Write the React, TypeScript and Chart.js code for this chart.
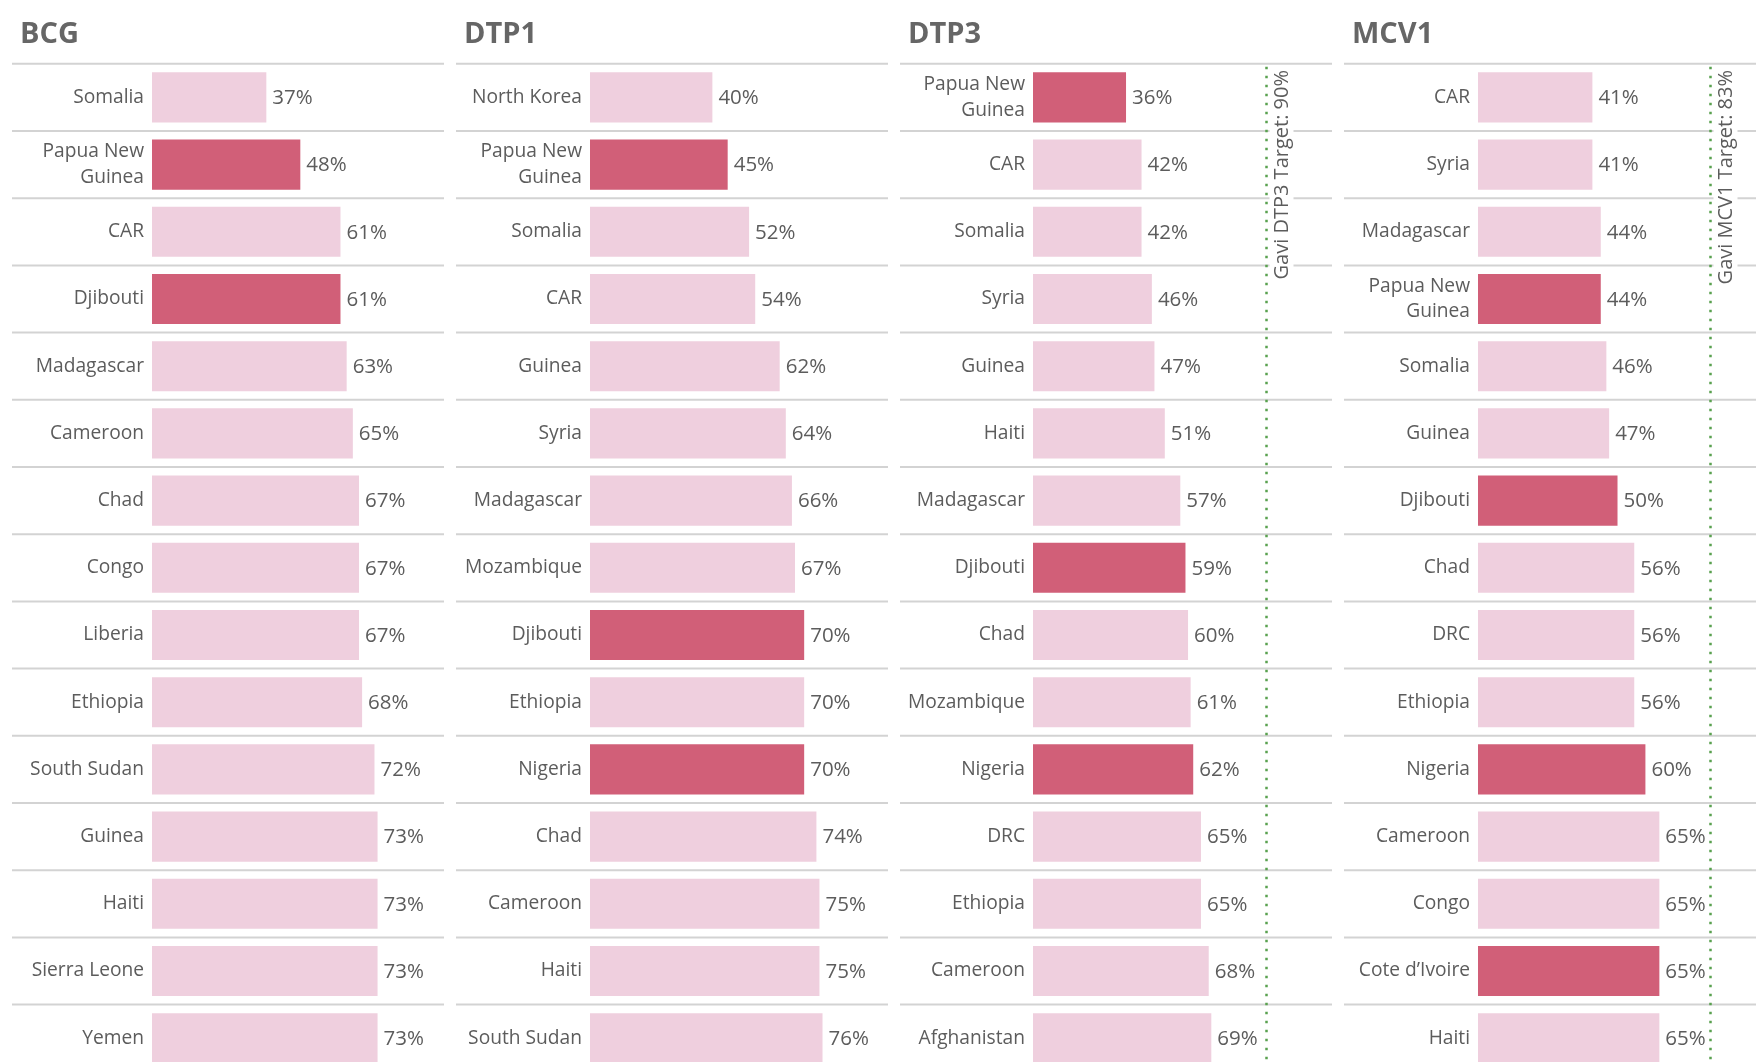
import React, { useEffect, useRef } from "react";
import { Chart, registerables } from "chart.js";

Chart.register(...registerables);

// ---------------- DATA ----------------
const bcgCountries = ["Somalia", "Papua New Guinea", "CAR", "Djibouti", "Madagascar", "Cameroon", "Chad", "Congo", "Liberia", "Ethiopia", "South Sudan", "Guinea", "Haiti", "Sierra Leone", "Yemen"];
const bcgValues = [37, 48, 61, 61, 63, 65, 67, 67, 67, 68, 72, 73, 73, 73, 73];

const dtp1Countries = ["North Korea", "Papua New Guinea", "Somalia", "CAR", "Guinea", "Syria", "Madagascar", "Mozambique", "Djibouti", "Ethiopia", "Nigeria", "Chad", "Cameroon", "Haiti", "South Sudan"];
const dtp1Values = [40, 45, 52, 54, 62, 64, 66, 67, 70, 70, 70, 74, 75, 75, 76];

const dtp3Countries = ["Papua New Guinea", "CAR", "Somalia", "Syria", "Guinea", "Haiti", "Madagascar", "Djibouti", "Chad", "Mozambique", "Nigeria", "DRC", "Ethiopia", "Cameroon", "Afghanistan"];
const dtp3Values = [36, 42, 42, 46, 47, 51, 57, 59, 60, 61, 62, 65, 65, 68, 69];

const mcv1Countries = ["CAR", "Syria", "Madagascar", "Papua New Guinea", "Somalia", "Guinea", "Djibouti", "Chad", "DRC", "Ethiopia", "Nigeria", "Cameroon", "Congo", "Cote d\u2019Ivoire", "Haiti"];
const mcv1Values = [41, 41, 44, 44, 46, 47, 50, 56, 56, 56, 60, 65, 65, 65, 65];

const highlightedCountries = ["Papua New Guinea", "Djibouti", "Nigeria", "Cote d\u2019Ivoire"];

const dtp3Target = 90;
const mcv1Target = 83;

// ---------------- STYLE / LAYOUT ----------------
const FONT = "'Open Sans', 'Noto Sans', sans-serif";
const TEXT = "#5c5c5c";
const TITLE = "#666666";
const LIGHT = "#efcfde";
const DARK = "#d15f78";
const GRID = "#d3d3d3";
const GREEN = "#59a14f";

const CANVAS_W = 432;
const CANVAS_H = 1080;
const TOP = 63.8;
const ROW_H = 67.2;

type Panel = {
  title: string;
  countries: string[];
  values: number[];
  left: number;
  labelWidth: number;
  xMax: number;
  target: number | null;
};

const panels: Panel[] = [
  { title: "BCG", countries: bcgCountries, values: bcgValues, left: 12, labelWidth: 140, xMax: 94.5, target: null },
  { title: "DTP1", countries: dtp1Countries, values: dtp1Values, left: 456, labelWidth: 134, xMax: 97.4, target: null },
  { title: "DTP3", countries: dtp3Countries, values: dtp3Values, left: 900, labelWidth: 133, xMax: 115.7, target: dtp3Target },
  { title: "MCV1", countries: mcv1Countries, values: mcv1Values, left: 1344, labelWidth: 134, xMax: 106.8, target: mcv1Target },
];

function wrapLabel(label: string): string | string[] {
  if (label.length <= 14) return label;
  const idx = label.lastIndexOf(" ", 12);
  if (idx <= 0) return label;
  return [label.slice(0, idx), label.slice(idx + 1)];
}

function PanelChart({ panel }: { panel: Panel }) {
  const ref = useRef<HTMLCanvasElement | null>(null);

  useEffect(() => {
    if (!ref.current) return;
    const n = panel.countries.length;

    const rowLines = {
      id: "rowLines",
      beforeDatasetsDraw(chart: any) {
        const y = chart.scales.y;
        const ctx = chart.ctx;
        ctx.save();
        ctx.strokeStyle = GRID;
        ctx.lineWidth = 2;
        for (let i = 0; i <= n; i++) {
          const py = y.getPixelForValue(i - 0.5);
          ctx.beginPath();
          ctx.moveTo(0, py);
          ctx.lineTo(chart.width, py);
          ctx.stroke();
        }
        ctx.restore();
      },
    };

    const titlePlugin = {
      id: "panelTitle",
      afterDraw(chart: any) {
        const ctx = chart.ctx;
        ctx.save();
        ctx.font = `bold 29px ${FONT}`;
        ctx.fillStyle = TITLE;
        ctx.textAlign = "left";
        ctx.textBaseline = "alphabetic";
        ctx.fillText(panel.title, 8, 43);
        ctx.restore();
      },
    };

    const valueLabels = {
      id: "valueLabels",
      afterDatasetsDraw(chart: any) {
        const ctx = chart.ctx;
        const meta = chart.getDatasetMeta(0);
        ctx.save();
        ctx.font = `20.5px ${FONT}`;
        ctx.fillStyle = TEXT;
        ctx.textAlign = "left";
        ctx.textBaseline = "middle";
        meta.data.forEach((bar: any, i: number) => {
          ctx.fillText(`${panel.values[i]}%`, bar.x + 6, bar.y + 1);
        });
        ctx.restore();
      },
    };

    const targetLine = {
      id: "targetLine",
      afterDatasetsDraw(chart: any) {
        if (panel.target === null) return;
        const ctx = chart.ctx;
        const x = Math.round(chart.scales.x.getPixelForValue(panel.target)) + 0.5;
        const { top, bottom } = chart.chartArea;
        ctx.save();
        ctx.strokeStyle = GREEN;
        ctx.lineWidth = 2.5;
        ctx.setLineDash([2.5, 6.5]);
        ctx.beginPath();
        ctx.moveTo(x, top + 3);
        ctx.lineTo(x, bottom);
        ctx.stroke();
        ctx.setLineDash([]);
        const text = `Gavi ${panel.title} Target: ${panel.target}%`;
        ctx.font = `20px ${FONT}`;
        const w = ctx.measureText(text).width;
        const cx = x + 15;
        const endY = 70;
        ctx.fillStyle = "#ffffff";
        ctx.fillRect(cx - 12, endY - 3, 24, w + 6);
        ctx.translate(cx, endY);
        ctx.rotate(-Math.PI / 2);
        ctx.fillStyle = TEXT;
        ctx.textAlign = "right";
        ctx.textBaseline = "middle";
        ctx.fillText(text, 0, 1);
        ctx.restore();
      },
    };

    const chart = new Chart(ref.current, {
      type: "bar",
      data: {
        labels: panel.countries,
        datasets: [
          {
            data: panel.values,
            backgroundColor: panel.countries.map((c) => (highlightedCountries.includes(c) ? DARK : LIGHT)),
            borderWidth: 0,
            categoryPercentage: 1,
            barPercentage: 0.745,
          },
        ],
      },
      options: {
        indexAxis: "y",
        responsive: false,
        animation: false,
        layout: {
          padding: { left: 0, right: 0, top: TOP, bottom: CANVAS_H - TOP - ROW_H * n },
        },
        plugins: {
          legend: { display: false },
          tooltip: { enabled: false },
          title: { display: false },
        },
        scales: {
          x: {
            display: false,
            min: 0,
            max: panel.xMax,
          },
          y: {
            position: "left",
            grid: { display: false, drawTicks: false },
            border: { display: false },
            afterFit(scale: any) {
              scale.width = panel.labelWidth;
              scale.paddingTop = 0;
              scale.paddingBottom = 0;
            },
            ticks: {
              padding: 8,
              color: TEXT,
              font: { family: FONT, size: 19.2, lineHeight: 1.35 },
              autoSkip: false,
              callback(this: any, value: any) {
                return wrapLabel(this.getLabelForValue(value));
              },
            },
          },
        },
      },
      plugins: [rowLines, valueLabels, targetLine, titlePlugin],
    } as any);

    return () => chart.destroy();
  }, [panel]);

  return (
    <canvas
      ref={ref}
      width={CANVAS_W}
      height={CANVAS_H}
      style={{ position: "absolute", left: panel.left, top: 0, width: CANVAS_W, height: CANVAS_H }}
    />
  );
}

export default function App() {
  return (
    <div
      style={{
        position: "fixed",
        left: 0,
        top: 0,
        width: 1756,
        height: 1062,
        overflow: "hidden",
        background: "#ffffff",
      }}
    >
      {panels.map((p) => (
        <PanelChart key={p.title} panel={p} />
      ))}
    </div>
  );
}
